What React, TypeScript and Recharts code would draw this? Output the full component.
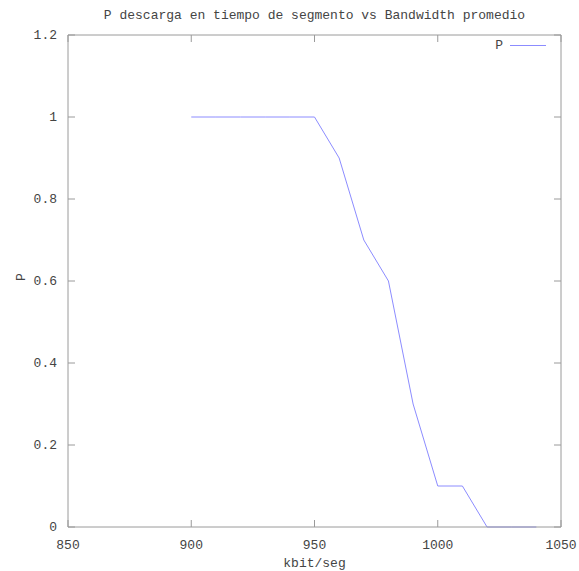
import { Line, LineChart, XAxis, YAxis } from 'recharts'

const bandwidth = [900, 910, 920, 930, 940, 950, 960, 970, 980, 990, 1000, 1010, 1020, 1030, 1040]
const probability = [1, 1, 1, 1, 1, 1, 0.9, 0.7, 0.6, 0.3, 0.1, 0.1, 0, 0, 0]
const xTicks = [850, 900, 950, 1000, 1050]
const yTicks = [0, 0.2, 0.4, 0.6, 0.8, 1, 1.2]

const chartData = bandwidth.map((x, i) => ({ x, p: probability[i] }))

const FONT = '"Liberation Mono", "DejaVu Sans Mono", monospace'
const TEXT = '#444'
const BORDER = '#9a9a9a'
const LINE = '#8c8cff'
const TICK_LEN = 7

function BottomTick(props: any) {
  const { x, y, payload } = props
  return (
    <g>
      <line x1={x} y1={y} x2={x} y2={y - TICK_LEN} stroke={BORDER} />
      <text x={x} y={y + 22} textAnchor="middle" fontFamily={FONT} fontSize={13} fill={TEXT}>
        {payload.value}
      </text>
    </g>
  )
}

function TopTick(props: any) {
  const { x, y } = props
  return <line x1={x} y1={y} x2={x} y2={y + TICK_LEN} stroke={BORDER} />
}

function LeftTick(props: any) {
  const { x, y, payload } = props
  return (
    <g>
      <line x1={x} y1={y} x2={x + TICK_LEN} y2={y} stroke={BORDER} />
      <text x={x - 11} y={y + 4} textAnchor="end" fontFamily={FONT} fontSize={13} fill={TEXT}>
        {payload.value}
      </text>
    </g>
  )
}

function RightTick(props: any) {
  const { x, y } = props
  return <line x1={x} y1={y} x2={x - TICK_LEN} y2={y} stroke={BORDER} />
}

export default function App() {
  return (
    <div style={{ position: 'absolute', left: 0, top: 0, width: 579, height: 571, background: '#fff' }}>
      <LineChart width={579} height={571} data={chartData} margin={{ top: 34, right: 17, bottom: 0, left: 0 }}>
        <XAxis
          xAxisId="bottom"
          dataKey="x"
          type="number"
          domain={[850, 1050]}
          ticks={xTicks}
          tickSize={0}
          tickMargin={0}
          tickLine={false}
          height={44}
          axisLine={{ stroke: BORDER }}
          tick={<BottomTick />}
          label={{ value: 'kbit/seg', position: 'insideBottom', offset: 4, fontFamily: FONT, fontSize: 13, fill: TEXT }}
        />
        <XAxis
          xAxisId="top"
          orientation="top"
          dataKey="x"
          type="number"
          domain={[850, 1050]}
          ticks={xTicks}
          tickSize={0}
          tickMargin={0}
          tickLine={false}
          height={1}
          axisLine={{ stroke: BORDER }}
          tick={<TopTick />}
        />
        <YAxis
          yAxisId="left"
          type="number"
          domain={[0, 1.2]}
          ticks={yTicks}
          tickSize={0}
          tickMargin={0}
          tickLine={false}
          width={68}
          axisLine={{ stroke: BORDER }}
          tick={<LeftTick />}
          label={{ value: 'P', angle: -90, position: 'insideLeft', offset: 20, fontFamily: FONT, fontSize: 13, fill: TEXT }}
        />
        <YAxis
          yAxisId="right"
          orientation="right"
          type="number"
          domain={[0, 1.2]}
          ticks={yTicks}
          tickSize={0}
          tickMargin={0}
          tickLine={false}
          width={1}
          axisLine={{ stroke: BORDER }}
          tick={<RightTick />}
        />
        {/* invisible copy so the mirrored top/right axes get drawn */}
        <Line
          xAxisId="top"
          yAxisId="right"
          dataKey="p"
          stroke="none"
          dot={false}
          activeDot={false}
          legendType="none"
          isAnimationActive={false}
        />
        <Line
          xAxisId="bottom"
          yAxisId="left"
          dataKey="p"
          name="P"
          type="linear"
          stroke={LINE}
          strokeWidth={1}
          dot={false}
          isAnimationActive={false}
        />
      </LineChart>
      <div
        style={{
          position: 'absolute',
          left: 0,
          top: 8,
          width: 629,
          textAlign: 'center',
          fontFamily: FONT,
          fontSize: 13,
          color: TEXT,
          whiteSpace: 'pre',
        }}
      >
        P descarga en tiempo de segmento vs Bandwidth promedio
      </div>
      <div
        style={{
          position: 'absolute',
          right: 33,
          top: 38,
          display: 'flex',
          alignItems: 'center',
          fontFamily: FONT,
          fontSize: 13,
          color: TEXT,
        }}
      >
        <span>P</span>
        <span style={{ display: 'inline-block', width: 36, height: 1, background: LINE, marginLeft: 7 }} />
      </div>
    </div>
  )
}
